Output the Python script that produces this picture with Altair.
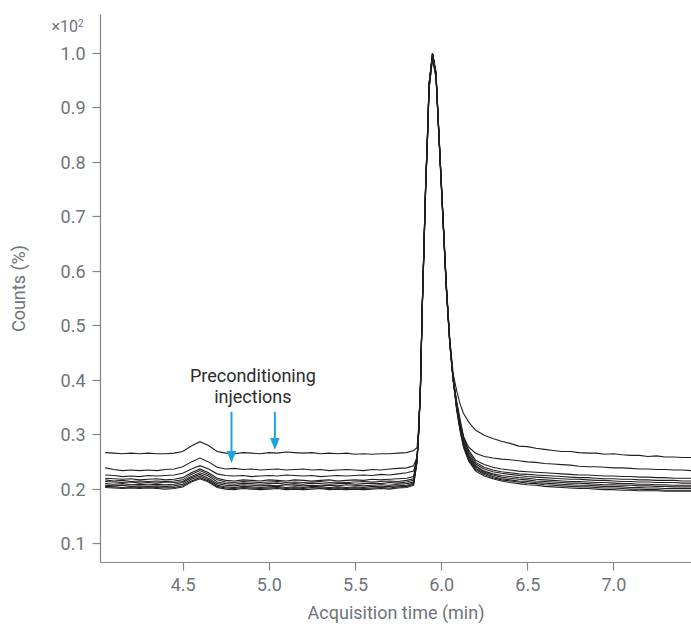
import altair as alt
import pandas as pd

# ---- data -------------------------------------------------------------
times = [
    4.05, 4.10, 4.15, 4.20, 4.25, 4.30, 4.35, 4.40, 4.45, 4.50, 4.55, 4.60,
    4.65, 4.70, 4.75, 4.80, 4.85, 4.90, 4.95, 5.00, 5.05, 5.10, 5.15, 5.20,
    5.25, 5.30, 5.35, 5.40, 5.45, 5.50, 5.55, 5.60, 5.65, 5.70, 5.75, 5.80,
    5.84, 5.86, 5.87, 5.88, 5.89, 5.90, 5.91, 5.92, 5.93, 5.95, 5.97, 5.99,
    6.01, 6.03, 6.05, 6.07, 6.09, 6.11, 6.13, 6.16, 6.20, 6.25, 6.30,
    6.35, 6.40, 6.45, 6.50, 6.55, 6.60, 6.65, 6.70, 6.75, 6.80, 6.85, 6.90,
    6.95, 7.00, 7.05, 7.10, 7.15, 7.20, 7.25, 7.30, 7.35, 7.40, 7.45,
]

trace_a = [
    .266, .265, .264, .265, .264, .265, .264, .264, .265, .268, .278, .286,
    .279, .268, .265, .264, .266, .265, .264, .266, .265, .267, .266, .265,
    .266, .264, .265, .264, .265, .263, .264, .263, .264, .264, .265, .266,
    .270, .275, .315, .395, .53, .645, .76, .845, .945, .995, .96, .835,
    .705, .575, .475, .41, .38, .355, .338, .322, .307, .298, .292,
    .287, .283, .278, .277, .274, .272, .270, .268, .268, .266, .265, .265,
    .263, .264, .262, .261, .261, .259, .260, .258, .258, .257, .257,
]
trace_b = [
    .238, .235, .233, .234, .233, .234, .233, .235, .236, .240, .249, .256,
    .249, .239, .236, .237, .235, .236, .234, .235, .236, .234, .235, .236,
    .234, .235, .233, .234, .235, .234, .233, .235, .234, .236, .237, .238,
    .242, .258, .31, .39, .525, .64, .75, .835, .94, 1.0, .965, .83,
    .70, .57, .47, .40, .36, .327, .295, .276, .265, .259, .256,
    .254, .253, .251, .249, .248, .246, .245, .244, .243, .241, .240, .240,
    .239, .238, .238, .237, .236, .236, .235, .235, .234, .234, .233,
]
trace_c = [
    .225, .224, .222, .223, .222, .224, .223, .224, .225, .228, .236, .242,
    .236, .227, .224, .223, .224, .222, .223, .224, .223, .225, .224, .223,
    .224, .222, .223, .224, .223, .224, .225, .224, .226, .225, .227, .229,
    .232, .256, .305, .385, .53, .64, .755, .84, .94, 1.0, .96, .83,
    .70, .57, .47, .40, .358, .322, .295, .27, .252, .244, .239,
    .236, .234, .232, .231, .230, .229, .228, .227, .226, .225, .225, .224,
    .223, .223, .222, .222, .221, .221, .220, .220, .219, .219, .219,
]
trace_d = [
    .219, .218, .217, .218, .216, .217, .218, .216, .217, .220, .229, .236,
    .229, .219, .215, .214, .216, .215, .214, .216, .215, .214, .216, .215,
    .214, .215, .216, .214, .215, .216, .215, .217, .216, .217, .218, .219,
    .222, .255, .31, .39, .53, .635, .75, .835, .935, .99, .955, .825,
    .695, .565, .465, .398, .356, .32, .292, .266, .248, .239, .234,
    .231, .229, .227, .226, .225, .224, .223, .222, .221, .220, .220, .219,
    .218, .218, .217, .217, .216, .216, .215, .215, .215, .214, .214,
]
trace_e = [
    .216, .214, .215, .213, .214, .213, .214, .213, .214, .216, .226, .233,
    .226, .216, .212, .211, .213, .212, .211, .212, .213, .211, .212, .211,
    .212, .213, .211, .212, .211, .212, .213, .212, .213, .214, .213, .215,
    .218, .254, .308, .385, .535, .645, .76, .84, .94, 1.0, .96, .83,
    .70, .57, .47, .40, .355, .318, .288, .262, .245, .236, .231,
    .228, .226, .224, .222, .221, .220, .219, .218, .217, .217, .216, .215,
    .215, .214, .213, .213, .212, .212, .211, .211, .211, .210, .210,
]
trace_f = [
    .213, .212, .211, .212, .210, .211, .210, .212, .211, .213, .222, .229,
    .223, .212, .209, .208, .210, .209, .208, .209, .210, .208, .209, .208,
    .210, .209, .208, .209, .210, .208, .209, .210, .209, .211, .210, .212,
    .215, .252, .31, .39, .53, .64, .755, .845, .945, .995, .96, .83,
    .70, .57, .468, .398, .353, .315, .285, .259, .242, .232, .227,
    .224, .222, .220, .219, .217, .216, .215, .214, .213, .213, .212, .211,
    .211, .210, .209, .209, .208, .208, .207, .207, .206, .206, .206,
]
trace_g = [
    .209, .208, .209, .207, .208, .207, .208, .207, .208, .211, .220, .226,
    .219, .209, .206, .205, .207, .206, .205, .206, .205, .207, .206, .205,
    .206, .205, .206, .205, .207, .206, .205, .206, .207, .206, .208, .209,
    .212, .25, .305, .385, .525, .635, .75, .835, .935, .995, .965, .835,
    .705, .575, .472, .402, .35, .312, .283, .256, .240, .230, .225,
    .221, .219, .217, .216, .214, .213, .212, .211, .210, .210, .209, .208,
    .207, .207, .206, .206, .205, .205, .204, .204, .203, .203, .203,
]
trace_h = [
    .206, .205, .206, .204, .205, .204, .205, .204, .205, .208, .217, .223,
    .216, .206, .203, .202, .204, .203, .202, .203, .204, .202, .203, .202,
    .204, .203, .202, .203, .202, .203, .202, .204, .203, .204, .205, .206,
    .210, .252, .31, .39, .53, .645, .76, .845, .945, 1.0, .96, .83,
    .70, .57, .47, .40, .348, .31, .28, .254, .237, .228, .222,
    .218, .216, .214, .213, .211, .210, .209, .208, .207, .206, .206, .205,
    .204, .204, .203, .202, .202, .201, .201, .200, .200, .200, .200,
]
trace_i = [
    .204, .203, .202, .203, .202, .203, .202, .203, .202, .205, .214, .220,
    .214, .204, .201, .200, .202, .201, .200, .201, .202, .200, .201, .200,
    .202, .201, .200, .201, .200, .201, .200, .201, .202, .201, .203, .204,
    .208, .248, .305, .38, .525, .635, .75, .835, .935, .99, .955, .825,
    .695, .565, .465, .398, .346, .308, .278, .252, .235, .226, .220,
    .216, .214, .212, .210, .209, .207, .206, .205, .204, .203, .203, .202,
    .201, .201, .200, .199, .199, .198, .198, .197, .197, .197, .197,
]
trace_j = [
    .202, .201, .200, .201, .200, .201, .200, .199, .200, .203, .212, .218,
    .212, .202, .199, .198, .200, .199, .198, .199, .200, .198, .199, .198,
    .199, .200, .198, .199, .198, .199, .198, .199, .200, .199, .201, .202,
    .206, .25, .31, .39, .535, .645, .76, .84, .94, 1.0, .96, .83,
    .70, .57, .47, .40, .344, .305, .275, .25, .232, .223, .218,
    .214, .211, .209, .207, .206, .204, .203, .202, .201, .200, .200, .199,
    .198, .198, .197, .197, .196, .196, .196, .195, .195, .195, .195,
]
traces = {
    "A": trace_a, "B": trace_b, "C": trace_c, "D": trace_d, "E": trace_e,
    "F": trace_f, "G": trace_g, "H": trace_h, "I": trace_i, "J": trace_j,
}

x_ticks = [4.5, 5.0, 5.5, 6.0, 6.5, 7.0]
y_ticks = [0.1, 0.2, 0.3, 0.4, 0.5, 0.6, 0.7, 0.8, 0.9, 1.0]

note_lines = ["Preconditioning", "injections"]
note_x = [4.907, 4.907]
note_y = [0.396, 0.357]

arrow_x = [4.783, 5.035]
arrow_top = [0.341, 0.341]
arrow_tip = [0.247, 0.271]

# ---- build tables ----------------------------------------------------
rows = []
for name, vals in traces.items():
    for t, v in zip(times, vals):
        rows.append({"trace": name, "t": t, "v": v})
df = pd.DataFrame(rows)

notes = pd.DataFrame({"text": note_lines, "t": note_x, "v": note_y})
arrows = pd.DataFrame({"t": arrow_x, "top": arrow_top, "tip": arrow_tip})
arrows["shaft_end"] = [tp + 0.014 for tp in arrow_tip]

FONT = "Roboto"
GREY = "#80868e"
LABEL = "#6e747c"
BLUE = "#1ea5de"

xscale = alt.Scale(domain=[4.02, 7.45], nice=False, zero=False)
yscale = alt.Scale(domain=[0.0651, 1.0716], nice=False, zero=False)

x_axis = alt.Axis(
    values=x_ticks, format=".1f", title="Acquisition time (min)",
    grid=False, tickSize=8, labelPadding=6, titlePadding=10,
)
y_axis = alt.Axis(
    values=y_ticks, format=".1f", title="Counts (%)",
    grid=False, tickSize=8, labelPadding=7, titlePadding=32, labelOffset=1.5,
)

lines = alt.Chart(df).mark_line(strokeWidth=1.1, color="#231f20").encode(
    x=alt.X("t:Q", scale=xscale, axis=x_axis),
    y=alt.Y("v:Q", scale=yscale, axis=y_axis),
    detail="trace:N",
)

note = alt.Chart(notes).mark_text(
    font=FONT, fontSize=18, color="#2b2b2b", align="center",
    baseline="alphabetic",
).encode(x=alt.X("t:Q", scale=xscale), y=alt.Y("v:Q", scale=yscale),
         text="text:N")

shafts = alt.Chart(arrows).mark_rule(color=BLUE, strokeWidth=2).encode(
    x=alt.X("t:Q", scale=xscale),
    y=alt.Y("top:Q", scale=yscale),
    y2="shaft_end:Q",
)
heads = alt.Chart(arrows).mark_point(
    shape="M-0.8,-2L0.8,-2L0,0Z", filled=True, color=BLUE, opacity=1,
    size=144, strokeWidth=0,
).encode(x=alt.X("t:Q", scale=xscale), y=alt.Y("tip:Q", scale=yscale))

# multiplier label "×10" with a superscript "2"
exp_base = alt.Chart(pd.DataFrame({"label": ["×10"]})).mark_text(
    font=FONT, fontSize=16, color=LABEL, align="right",
    baseline="alphabetic",
).encode(x=alt.value(-22), y=alt.value(18.3), text="label:N")
exp_sup = alt.Chart(pd.DataFrame({"label": ["2"]})).mark_text(
    font=FONT, fontSize=10, color=LABEL, align="left",
    baseline="alphabetic",
).encode(x=alt.value(-22), y=alt.value(12.5), text="label:N")

chart = alt.layer(lines, note, shafts, heads, exp_base, exp_sup).properties(
    width=591, height=548,
    autosize=alt.AutoSizeParams(type="none"),
    padding={"left": 100, "top": 14, "right": 0, "bottom": 64},
).configure_view(stroke=None).configure_axis(
    labelFont=FONT, titleFont=FONT, labelFontSize=18, titleFontSize=18,
    labelColor=LABEL, titleColor=LABEL, titleFontWeight="normal",
    domainColor=GREY, tickColor=GREY, domainWidth=1.2, tickWidth=1.2,
)

chart.save("out.html", embed_options={"renderer": "svg", "actions": False})
